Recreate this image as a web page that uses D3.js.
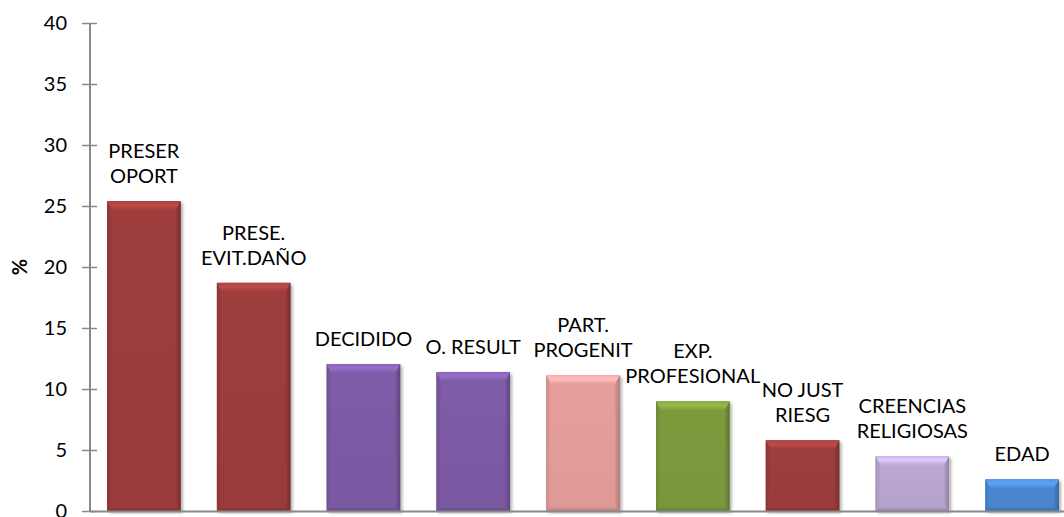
<!DOCTYPE html>
<html>
<head>
<meta charset="utf-8">
<script src="https://cdn.jsdelivr.net/npm/d3@7"></script>
<style>
  html, body { margin: 0; padding: 0; background: #ffffff; }
  svg { display: block; }
</style>
</head>
<body>
<svg id="chart" width="1064" height="517"></svg>
<script>
// Reasons given, share of responses (%)
const categories = ["PRESER OPORT", "PRESE. EVIT.DAÑO", "DECIDIDO", "O. RESULT", "PART. PROGENIT",
                    "EXP. PROFESIONAL", "NO JUST RIESG", "CREENCIAS RELIGIOSAS", "EDAD"];
const labelLines = [["PRESER", "OPORT"], ["PRESE.", "EVIT.DAÑO"], ["DECIDIDO"], ["O. RESULT"],
                    ["PART.", "PROGENIT"], ["EXP.", "PROFESIONAL"], ["NO JUST", "RIESG"],
                    ["CREENCIAS", "RELIGIOSAS"], ["EDAD"]];
const values = [25.4, 18.7, 12.05, 11.4, 11.15, 9.0, 5.8, 4.5, 2.6];
const barColors = ["#9d3c3c", "#9d3c3c", "#7d5ba6", "#7d5ba6", "#e49d9b",
                   "#7c9a3d", "#9d3c3c", "#b9a6d1", "#4a87d0"];
const yTicks = [0, 5, 10, 15, 20, 25, 30, 35, 40];
const yTitle = "%";

const svg = d3.select("#chart");
const W = 1064, H = 517;
const fontFamily = "Lato, 'Open Sans', sans-serif";

const x = d3.scaleBand().domain(categories).range([89, 1077]).paddingInner(0.33).paddingOuter(0.165);
const y = d3.scaleLinear().domain([0, 40]).range([511, 23]);

const defs = svg.append("defs");
const shadow = defs.append("filter").attr("id", "barShadow")
  .attr("x", "-10%").attr("y", "-10%").attr("width", "130%").attr("height", "130%");
shadow.append("feDropShadow").attr("dx", 2).attr("dy", 2).attr("stdDeviation", 1.8)
  .attr("flood-color", "#000").attr("flood-opacity", 0.3);

function grad(id, horizontal, stops) {
  const g = defs.append("linearGradient").attr("id", id)
    .attr("x1", 0).attr("y1", 0).attr("x2", horizontal ? 1 : 0).attr("y2", horizontal ? 0 : 1);
  stops.forEach(([o, c]) => g.append("stop").attr("offset", o).attr("stop-color", c));
}

// per-bar gradients for the bevelled faces
barColors.forEach((c, i) => {
  const base = d3.color(c);
  grad("face" + i, false, [["0%", base.brighter(0.04)], ["100%", base.darker(0.08)]]);
  grad("top" + i, false, [["0%", base.brighter(0.25)], ["45%", base.brighter(0.55)], ["100%", base.brighter(0.05)]]);
  grad("left" + i, true, [["0%", base.darker(0.35)], ["100%", base]]);
  grad("right" + i, true, [["0%", base.darker(0.1)], ["100%", base.darker(0.75)]]);
  grad("bottom" + i, false, [["0%", base], ["100%", base.darker(0.6)]]);
});

// axes
const yAxis = svg.append("g").attr("transform", "translate(90,0)")
  .call(d3.axisLeft(y).tickValues(yTicks).tickSize(0).tickPadding(23));
yAxis.select(".domain").remove();
yAxis.selectAll("text").attr("font-family", fontFamily).attr("font-size", 20).attr("fill", "#000");
yAxis.selectAll(".tick").append("line")
  .attr("x1", -8).attr("x2", 7).attr("stroke", "#898989").attr("stroke-width", 1.5);

svg.append("line").attr("x1", 90).attr("x2", 90).attr("y1", y(40)).attr("y2", y(0))
  .attr("stroke", "#898989").attr("stroke-width", 2);

const bev = 9, bevB = 5, bevS = 5;
const bars = svg.append("g").selectAll("g").data(values).join("g")
  .attr("filter", "url(#barShadow)");

bars.each(function (v, i) {
  const g = d3.select(this);
  const x0 = x(categories[i]), w = x.bandwidth();
  const y0 = y(v), y1 = y(0), x1 = x0 + w;
  g.append("rect").attr("x", x0).attr("y", y0).attr("width", w).attr("height", y1 - y0)
    .attr("fill", `url(#face${i})`);
  // left bevel
  g.append("polygon")
    .attr("points", [[x0, y0], [x0 + bevS, y0 + bev], [x0 + bevS, y1 - bevB], [x0, y1]].join(" "))
    .attr("fill", `url(#left${i})`);
  // right bevel
  g.append("polygon")
    .attr("points", [[x1, y0], [x1 - bevS, y0 + bev], [x1 - bevS, y1 - bevB], [x1, y1]].join(" "))
    .attr("fill", `url(#right${i})`);
  // bottom bevel
  g.append("polygon")
    .attr("points", [[x0, y1], [x0 + bevS, y1 - bevB], [x1 - bevS, y1 - bevB], [x1, y1]].join(" "))
    .attr("fill", `url(#bottom${i})`);
  // top bevel
  g.append("polygon")
    .attr("points", [[x0, y0], [x1, y0], [x1 - bevS, y0 + bev], [x0 + bevS, y0 + bev]].join(" "))
    .attr("fill", `url(#top${i})`);
});

// x baseline
svg.append("line").attr("x1", 90).attr("x2", W).attr("y1", y(0) + 0.5).attr("y2", y(0) + 0.5)
  .attr("stroke", "#898989").attr("stroke-width", 2);

// category labels above the bars
const lineGap = 25;
svg.append("g").selectAll("text").data(values).join("text")
  .attr("font-family", fontFamily).attr("font-size", 20).attr("fill", "#000")
  .attr("text-anchor", "middle")
  .each(function (v, i) {
    const t = d3.select(this);
    const lines = labelLines[i];
    const cx = x(categories[i]) + x.bandwidth() / 2;
    const baseY = y(v) - 18 - (lines.length - 1) * lineGap;
    lines.forEach((s, k) => {
      t.append("tspan").attr("x", cx).attr("y", baseY + k * lineGap).text(s);
    });
  });

// y-axis title
svg.append("text").attr("transform", "translate(27,267) rotate(-90)")
  .attr("text-anchor", "middle").attr("font-family", fontFamily)
  .attr("font-size", 20).attr("font-weight", "bold").attr("fill", "#000").text(yTitle);
</script>
</body>
</html>
